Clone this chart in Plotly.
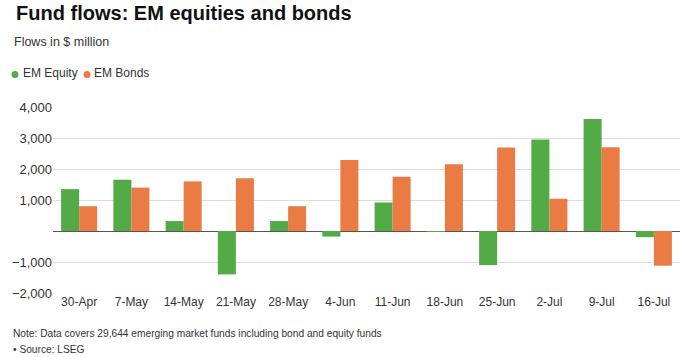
import plotly.graph_objects as go

weeks = ["30-Apr", "7-May", "14-May", "21-May", "28-May", "4-Jun", "11-Jun",
         "18-Jun", "25-Jun", "2-Jul", "9-Jul", "16-Jul"]
em_equity = [1350, 1650, 320, -1400, 320, -180, 920, -20, -1100, 2950, 3610, -200]
em_bonds = [800, 1400, 1600, 1700, 800, 2290, 1750, 2150, 2690, 1040, 2700, -1120]
y_ticks = [-2000, -1000, 1000, 2000, 3000, 4000]
y_tick_labels = ["\u22122,000", "\u22121,000", "1,000", "2,000", "3,000", "4,000"]
series_names = ["EM Equity", "EM Bonds"]

GREEN = "#52ab46"
ORANGE = "#eb7b45"
FONT = "Liberation Sans, Arial, Helvetica, sans-serif"

W, H = 700, 357
ML, MR, MT, MB = 53, 20, 107, 64
PW, PH = W - ML - MR, H - MT - MB


def px(x):
    return (x - ML) / PW


def py(y):
    return (H - MB - y) / PH


fig = go.Figure()
fig.add_trace(go.Bar(x=weeks, y=em_equity, name=series_names[0], marker_color=GREEN,
                     marker_line_width=0, showlegend=False))
fig.add_trace(go.Bar(x=weeks, y=em_bonds, name=series_names[1], marker_color=ORANGE,
                     marker_line_width=0, showlegend=False))

# custom legend: dots + labels
legend_items = [(15, 21, series_names[0], GREEN), (87, 92, series_names[1], ORANGE)]
shapes = []
annotations = []
r = 3.5
ly = 73.5
for dot_x, text_x, name, col in legend_items:
    shapes.append(dict(type="circle", xref="paper", yref="paper",
                       x0=px(dot_x - r), x1=px(dot_x + r),
                       y0=py(ly + 1 + r), y1=py(ly + 1 - r),
                       fillcolor=col, line=dict(width=0)))
    annotations.append(dict(text=name, x=px(text_x), y=py(ly), xref="paper", yref="paper",
                            xanchor="left", yanchor="middle", showarrow=False,
                            font=dict(size=12, color="#333")))

annotations += [
    dict(text="Flows in $ million", x=px(12), y=py(42), xref="paper", yref="paper",
         xanchor="left", yanchor="middle", showarrow=False,
         font=dict(size=12.5, color="#333")),
    dict(text="Note: Data covers 29,644 emerging market funds including bond and equity funds",
         x=px(11), xref="paper", y=py(333.5), yref="paper",
         xanchor="left", yanchor="middle", showarrow=False,
         font=dict(size=10.2, color="#333")),
    dict(text="\u2022 Source: LSEG",
         x=px(11), xref="paper", y=py(349), yref="paper",
         xanchor="left", yanchor="middle", showarrow=False,
         font=dict(size=10.2, color="#333")),
]

fig.update_layout(
    width=W, height=H,
    margin=dict(l=ML, r=MR, t=MT, b=MB, autoexpand=False),
    paper_bgcolor="white", plot_bgcolor="white",
    font=dict(family=FONT, size=12, color="#222"),
    barmode="group", bargap=0.31, bargroupgap=0,
    showlegend=False,
    title=dict(text="<b>Fund flows: EM equities and bonds</b>", x=0.023, xref="container",
               xanchor="left", y=1 - 13 / H, yref="container", yanchor="middle",
               font=dict(size=20, color="#111", family=FONT)),
    shapes=shapes,
    annotations=annotations,
)

fig.update_xaxes(showgrid=False, showline=False, ticks="", tickfont=dict(size=12, color="#333"))
fig.update_yaxes(range=[-2000, 4000], tickvals=y_ticks, ticktext=y_tick_labels,
                 showgrid=True, gridcolor="#dcdcdc", gridwidth=1,
                 zeroline=True, zerolinecolor="#555", zerolinewidth=1.2,
                 showline=False, ticks="", tickfont=dict(size=13, color="#333"))

fig.write_html("out.html", config={"displayModeBar": False},
               post_script="document.body.style.margin='0px';")
